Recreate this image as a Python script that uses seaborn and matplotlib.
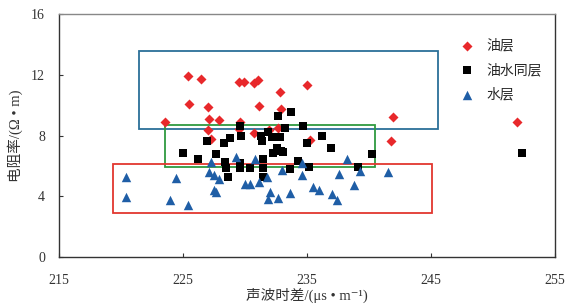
import pandas as pd
import seaborn as sns
import matplotlib.pyplot as plt
from matplotlib.patches import Rectangle

# 油层
oil_x = [223.6, 225.4, 226.5, 225.5, 227.05, 227.1, 227.9, 229.5, 229.9, 230.75, 231.05,
         232.8, 231.15, 232.9, 235.0, 229.6, 227.0, 227.3, 229.5, 230.75, 231.95, 232.7,
         235.25, 241.9, 241.8, 251.9]
oil_y = [8.9, 11.9, 11.75, 10.05, 9.9, 9.07, 9.03, 11.55, 11.55, 11.45, 11.65,
         10.85, 9.97, 9.75, 11.35, 8.87, 8.35, 7.8, 8.4, 8.15, 8.35, 8.5,
         7.7, 9.25, 7.65, 8.9]

# 油水同层
mix_x = [225.05, 226.2, 226.95, 227.7, 228.3, 228.8, 228.4, 228.5, 228.6, 229.6, 229.7,
         229.6, 229.6, 230.4, 231.3, 231.9, 231.4, 232.2, 232.6, 232.3, 232.9, 231.45,
         231.5, 231.5, 232.7, 233.7, 233.25, 234.7, 232.85, 233.1, 236.2, 235.0, 236.95,
         234.3, 233.6, 235.15, 239.15, 240.25, 252.3]
mix_y = [6.83, 6.43, 7.62, 6.77, 7.48, 7.81, 6.25, 5.87, 5.25, 8.6, 8.0,
         6.22, 5.86, 5.88, 8.0, 8.25, 7.65, 7.92, 7.2, 6.85, 7.0, 6.45,
         5.84, 5.3, 9.28, 9.52, 8.47, 8.62, 7.92, 6.93, 7.97, 7.52, 7.2,
         6.3, 5.8, 5.95, 5.95, 6.78, 6.85]

# 水层
water_x = [220.4, 220.4, 224.45, 223.95, 225.4, 227.3, 227.1, 227.5, 227.95, 227.5, 227.7,
           229.3, 230.8, 230.0, 230.4, 231.1, 231.8, 232.0, 231.9, 232.7, 233.0, 233.6,
           234.6, 234.6, 235.5, 236.0, 237.05, 237.4, 238.2, 237.55, 238.8, 239.25, 241.5]
water_y = [5.25, 3.97, 5.23, 3.75, 3.42, 6.25, 5.6, 5.4, 5.12, 4.43, 4.28,
           6.62, 6.45, 4.82, 4.82, 4.96, 5.3, 4.27, 3.83, 3.86, 5.73, 4.25,
           6.17, 5.4, 4.63, 4.41, 4.17, 3.78, 6.45, 5.46, 4.74, 5.68, 5.62]

# 框选区域 (x0, x1, y0, y1)
box_oil = (221.5, 245.6, 8.4, 13.55)
box_mix = (223.6, 240.45, 5.95, 8.7)
box_water = (219.4, 245.1, 2.9, 6.15)

oil = pd.DataFrame({'x': oil_x, 'y': oil_y})
mix = pd.DataFrame({'x': mix_x, 'y': mix_y})
water = pd.DataFrame({'x': water_x, 'y': water_y})

sns.set_style('ticks')
plt.rcParams['font.family'] = ['Liberation Serif', 'Noto Sans CJK SC', 'DejaVu Sans']
cjk = ['Noto Sans CJK SC', 'DejaVu Sans']
mixed = ['Liberation Serif', 'Noto Sans CJK SC', 'DejaVu Sans']

fig, ax = plt.subplots(figsize=(5.71, 3.06), dpi=100)
fig.subplots_adjust(left=0.103, right=0.972, top=0.954, bottom=0.160)

for (x0, x1, y0, y1), c in [(box_oil, '#2b6f99'), (box_mix, '#2f9a40'), (box_water, '#e2372f')]:
    ax.add_patch(Rectangle((x0, y0), x1 - x0, y1 - y0, fill=False, edgecolor=c, linewidth=1.3, zorder=1))

sns.scatterplot(data=oil, x='x', y='y', marker='D', color='#e8282b', s=26, linewidth=0, label='油层', ax=ax, zorder=3)
sns.scatterplot(data=mix, x='x', y='y', marker='s', color='black', s=36, linewidth=0, label='油水同层', ax=ax, zorder=3)
sns.scatterplot(data=water, x='x', y='y', marker='^', color='#1f5ea6', s=46, linewidth=0, label='水层', ax=ax, zorder=3)

ax.set_xlim(215, 255)
ax.set_ylim(0, 16)
ax.set_xticks([215, 225, 235, 245, 255])
ax.set_yticks([0, 4, 8, 12, 16])
ax.tick_params(direction='in', length=3, width=0.8, pad=10, labelsize=10, colors='#333333')
ax.tick_params(axis='x', pad=12)
for s in ax.spines.values():
    s.set_color('#333333')
    s.set_linewidth(1.0)
ax.spines['top'].set_color('#888888')

ax.set_xlabel('声波时差/(μs • m⁻¹)', family=mixed, fontsize=10.5, color='#333333', labelpad=1)
ax.set_ylabel('电阻率/(Ω • m)', family=mixed, fontsize=10.5, color='#333333', labelpad=6)

leg = ax.legend(loc='upper left', bbox_to_anchor=(0.77, 0.95), frameon=False,
                handletextpad=0.4, labelspacing=0.75, prop={'family': cjk, 'size': 10})

plt.savefig('out.png', dpi=100)
